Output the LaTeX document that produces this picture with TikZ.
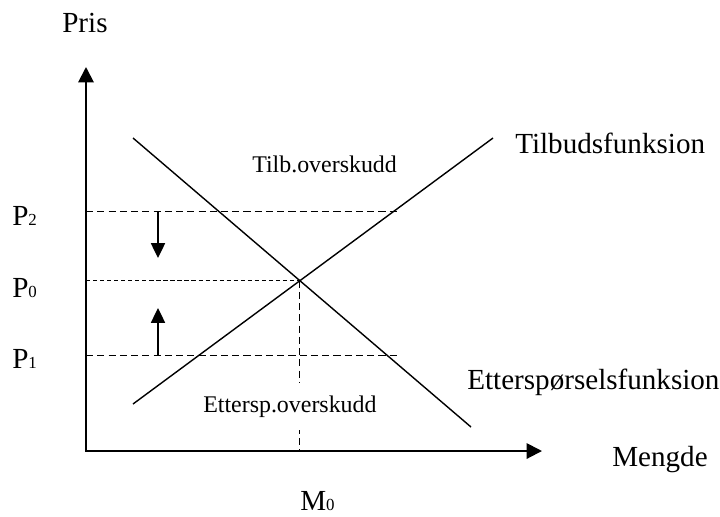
\documentclass[tikz,border=0pt]{standalone}
\usepackage{fontspec}
\setmainfont{Liberation Serif}
\usetikzlibrary{arrows.meta}

\begin{document}
\begin{tikzpicture}[x=0.025cm, y=-0.025cm,
    axis/.style={line width=1.4pt, {Triangle[length=11pt,width=11pt]}-{Triangle[length=11pt,width=11pt]}},
    curve/.style={line width=1pt},
    priceline/.style={line width=0.7pt, dash pattern=on 5pt off 3pt},
    eqline/.style={line width=0.7pt, dash pattern=on 3pt off 2pt},
    shiftarrow/.style={line width=1pt, -{Triangle[length=10.5pt,width=10pt]}},
    biglabel/.style={inner sep=0pt, anchor=base west, font=\fontsize{20.7}{24}\selectfont},
    smalllabel/.style={inner sep=0pt, anchor=base west, font=\fontsize{17}{20}\selectfont}]

    \useasboundingbox (0,0) rectangle (720,516);

    % axes
    \coordinate (O) at (86,451);
    \coordinate (ytip) at (86,67);
    \coordinate (xtip) at (542,451);
    \draw[axis] (ytip) -- (O) -- (xtip);
    \node[biglabel] (pris) at (62,32) {Pris};
    \node[biglabel] (mengde) at (612,466) {Mengde};

    % supply and demand
    \coordinate (D1) at (133,138);
    \coordinate (D2) at (471,427);
    \coordinate (S1) at (133,404);
    \coordinate (S2) at (493,138);
    \draw[curve] (D1) -- (D2);
    \draw[curve] (S1) -- (S2);
    \coordinate (E) at (intersection of D1--D2 and S1--S2);
    \node[biglabel] (tilbud) at (515,153) {Tilbudsfunksion};
    \node[biglabel] (etterspf) at (467,389) {Etterspørselsfunksion};

    % price levels
    \coordinate (P2a) at (86,211);
    \coordinate (P2b) at (398,211);
    \coordinate (P1a) at (86,355);
    \coordinate (P1b) at (398,355);
    \draw[priceline] (P2a) -- (P2b);
    \draw[priceline] (P1a) -- (P1b);
    \draw[eqline] (O |- E) -- (E);
    \draw[priceline] (E) -- (E |- O);
    \node[biglabel] (p2) at (12,225) {P{\fontsize{12}{14}\selectfont 2}};
    \node[biglabel] (p0) at (12,297) {P{\fontsize{12}{14}\selectfont 0}};
    \node[biglabel] (p1) at (12,368) {P{\fontsize{12}{14}\selectfont 1}};
    \node[biglabel] (m0) at (300,510) {M{\fontsize{12}{14}\selectfont 0}};

    % adjustment arrows
    \coordinate (dn) at (158,258);
    \coordinate (up) at (158,308);
    \draw[shiftarrow] (dn |- P2a) -- (dn);
    \draw[shiftarrow] (up |- P1a) -- (up);

    % surplus labels
    \node[smalllabel] (tilbover) at (252,172) {Tilb.overskudd};
    \node[smalllabel, fill=white, inner ysep=9pt] (etterover) at (203,412) {Ettersp.overskudd};
\end{tikzpicture}
\end{document}
